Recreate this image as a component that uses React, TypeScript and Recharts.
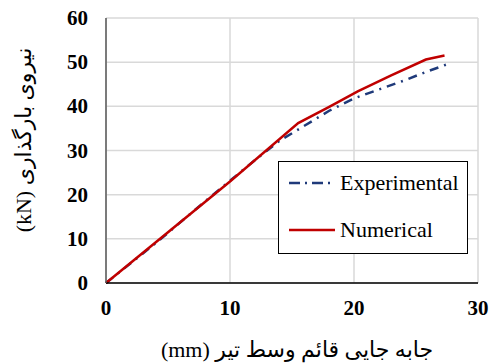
import { LineChart, Line, XAxis, YAxis, CartesianGrid, Legend } from 'recharts'

// load-displacement readings (mm, kN)
const experimental = [
  { x: 0, y: 0 },
  { x: 4, y: 9 },
  { x: 8, y: 18.5 },
  { x: 12, y: 27.8 },
  { x: 14, y: 32.2 },
  { x: 16, y: 35.6 },
  { x: 18, y: 39 },
  { x: 20, y: 41.8 },
  { x: 22, y: 43.8 },
  { x: 24, y: 45.8 },
  { x: 26, y: 48 },
  { x: 27.6, y: 49.6 },
]

const numerical = [
  { x: 0, y: 0 },
  { x: 5, y: 11.5 },
  { x: 10, y: 23 },
  { x: 15.5, y: 36.2 },
  { x: 18, y: 39.9 },
  { x: 20.3, y: 43.4 },
  { x: 23, y: 47 },
  { x: 25.8, y: 50.6 },
  { x: 27.3, y: 51.5 },
]

const xTicks = [0, 10, 20, 30]
const yTicks = [0, 10, 20, 30, 40, 50, 60]

const xLabel = 'جابه جایی قائم وسط تیر (mm)'
const yLabel = 'نیروی بارگذاری (kN)'

const BLUE = '#1f3a7a'
const RED = '#c00000'
const FONT = "'Liberation Serif', 'DejaVu Sans', serif"

function XTick({ x, y, payload }: any) {
  return (
    <text x={x} y={y + 15} textAnchor="middle" fontSize={21} fontWeight={700} fontFamily="Liberation Serif" fill="#000">
      {payload.value}
    </text>
  )
}

function YTick({ x, y, payload }: any) {
  return (
    <text x={x} y={y + 7} textAnchor="end" fontSize={21} fontWeight={700} fontFamily="Liberation Serif" fill="#000">
      {payload.value}
    </text>
  )
}

function LegendBox() {
  const items = [
    { name: 'Experimental', color: BLUE, dash: '11 5 2 5' },
    { name: 'Numerical', color: RED, dash: undefined },
  ]
  return (
    <div style={{ width: 190, height: 93, border: '1.5px solid #000', background: '#fff', boxSizing: 'border-box', fontFamily: FONT, fontSize: 22, paddingTop: 2 }}>
      {items.map(d => (
        <div key={d.name} style={{ display: 'flex', alignItems: 'center', height: 38, marginBottom: 9 }}>
          <svg width={50} height={10} style={{ marginLeft: 8, marginRight: 3 }}>
            <line x1={2} y1={5} x2={48} y2={5} stroke={d.color} strokeWidth={2.5} strokeDasharray={d.dash} />
          </svg>
          <span style={{ color: '#000' }}>{d.name}</span>
        </div>
      ))}
    </div>
  )
}

export default function App() {
  return (
    <div style={{ position: 'fixed', left: 0, top: 0, width: 494, height: 363, background: '#fff' }}>
      <LineChart width={494} height={363} margin={{ top: 18, right: 16, left: 0, bottom: 0 }}>
        <CartesianGrid stroke="#d9d9d9" strokeWidth={1.5} />
        <XAxis
          type="number"
          dataKey="x"
          domain={[0, 30]}
          ticks={xTicks}
          tickSize={0}
          tickMargin={17}
          height={80}
          axisLine={{ stroke: '#000', strokeWidth: 1.5 }}
          tick={<XTick />}
          label={{
            content: () => (
              <text x={297} y={357} direction="rtl" textAnchor="middle" fontSize={22} fontFamily={FONT} fill="#000">{xLabel}</text>
            ),
          }}
        />
        <YAxis
          type="number"
          dataKey="y"
          domain={[0, 60]}
          ticks={yTicks}
          tickSize={0}
          tickMargin={18}
          width={106}
          axisLine={{ stroke: '#595959', strokeWidth: 1.5 }}
          tick={<YTick />}
          label={{
            content: () => (
              <text x={31} y={140} direction="rtl" transform="rotate(-90 31 140)" textAnchor="middle" fontSize={22} fontFamily={FONT} fill="#000">{yLabel}</text>
            ),
          }}
        />
        <Legend
          layout="horizontal"
          verticalAlign="middle"
          align="center"
          wrapperStyle={{ left: 278, top: 161, width: 190 }}
          content={() => <LegendBox />}
        />
        <Line data={experimental} dataKey="y" name="Experimental" stroke={BLUE} strokeWidth={2.5} strokeDasharray="9 6 2 6" dot={false} isAnimationActive={false} />
        <Line data={numerical} dataKey="y" name="Numerical" stroke={RED} strokeWidth={2.5} dot={false} isAnimationActive={false} />
      </LineChart>
    </div>
  )
}
